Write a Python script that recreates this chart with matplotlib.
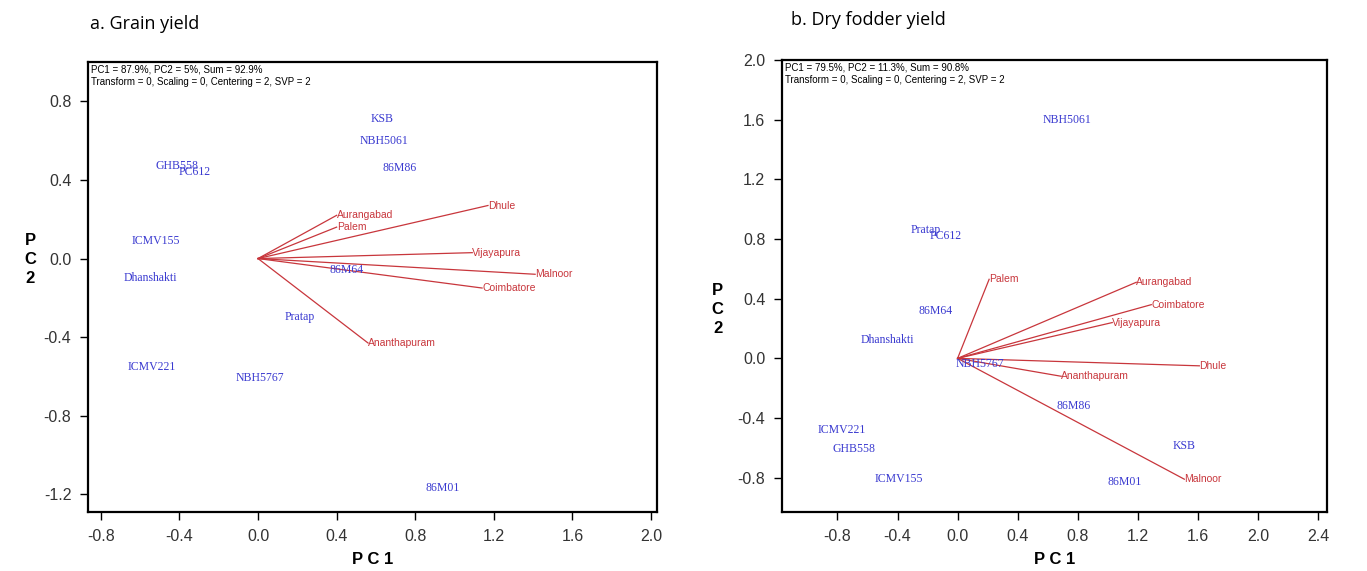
import matplotlib
matplotlib.use('Agg')
import matplotlib.pyplot as plt

# genotypes (blue labels) and environments (red vectors) -- a. grain yield
geno_a = ['KSB', 'NBH5061', '86M86', 'GHB558', 'PC612', 'ICMV155', 'Dhanshakti',
          '86M64', 'Pratap', 'ICMV221', 'NBH5767', '86M01']
geno_a_x = [0.63, 0.64, 0.72, -0.41, -0.32, -0.52, -0.55, 0.45, 0.21, -0.54, 0.01, 0.94]
geno_a_y = [0.71, 0.60, 0.46, 0.47, 0.44, 0.09, -0.10, -0.06, -0.30, -0.55, -0.61, -1.17]
env_a = ['Aurangabad', 'Palem', 'Dhule', 'Vijayapura', 'Malnoor', 'Coimbatore', 'Ananthapuram']
env_a_x = [0.40, 0.40, 1.17, 1.09, 1.41, 1.14, 0.56]
env_a_y = [0.22, 0.16, 0.27, 0.03, -0.08, -0.15, -0.43]

# b. dry fodder yield
geno_b = ['NBH5061', 'Pratap', 'PC612', '86M64', 'Dhanshakti', 'NBH5767', '86M86',
          'ICMV221', 'GHB558', 'ICMV155', 'KSB', '86M01']
geno_b_x = [0.73, -0.21, -0.08, -0.15, -0.47, 0.15, 0.77, -0.77, -0.69, -0.39, 1.51, 1.11]
geno_b_y = [1.60, 0.86, 0.82, 0.32, 0.12, -0.04, -0.32, -0.48, -0.61, -0.81, -0.59, -0.83]
env_b = ['Palem', 'Aurangabad', 'Coimbatore', 'Vijayapura', 'Dhule', 'Ananthapuram', 'Malnoor']
env_b_x = [0.21, 1.19, 1.29, 1.03, 1.61, 0.69, 1.51]
env_b_y = [0.53, 0.51, 0.36, 0.24, -0.05, -0.12, -0.81]

info_a = 'PC1 = 87.9%, PC2 = 5%, Sum = 92.9%\nTransform = 0, Scaling = 0, Centering = 2, SVP = 2'
info_b = 'PC1 = 79.5%, PC2 = 11.3%, Sum = 90.8%\nTransform = 0, Scaling = 0, Centering = 2, SVP = 2'

blue = '#3a3ad0'
red = '#c8363c'

fig = plt.figure(figsize=(13.67, 5.71), dpi=100)


def biplot(ax, gn, gx, gy, en, ex, ey, info):
    for lab, x, y in zip(en, ex, ey):
        ax.plot([0, x], [0, y], '-', color=red, lw=0.9)
        ax.text(x, y, lab, color=red, fontsize=7.5, family='Liberation Sans',
                ha='left', va='center')
    for lab, x, y in zip(gn, gx, gy):
        ax.text(x, y, lab, color=blue, fontsize=8.5, family='Liberation Serif',
                ha='center', va='center')
    ax.text(0.005, 0.995, info, transform=ax.transAxes, fontsize=7,
            family='Liberation Sans', va='top', ha='left', linespacing=1.3)
    for s in ax.spines.values():
        s.set_linewidth(1.6)
    ax.tick_params(direction='out', length=6, width=1, labelsize=11.5,
                   labelcolor='#333333', pad=6)
    for t in ax.get_xticklabels() + ax.get_yticklabels():
        t.set_family('Liberation Sans')
    ax.set_xlabel('P C 1', fontsize=12, fontweight='bold', labelpad=6,
                  family='Liberation Sans')


ax1 = fig.add_axes([0.0644, 0.1033, 0.4162, 0.788])
ax1.set_xlim(-0.865, 2.03)
ax1.set_ylim(-1.29, 1.0)
ax1.set_xticks([-0.8, -0.4, 0.0, 0.4, 0.8, 1.2, 1.6, 2.0])
ax1.set_yticks([-1.2, -0.8, -0.4, 0.0, 0.4, 0.8])
ax1.set_xticklabels(['-0.8', '-0.4', '0.0', '0.4', '0.8', '1.2', '1.6', '2.0'])
ax1.set_yticklabels(['-1.2', '-0.8', '-0.4', '0.0', '0.4', '0.8'])
biplot(ax1, geno_a, geno_a_x, geno_a_y, env_a, env_a_x, env_a_y, info_a)
fig.text(0.022, 0.546, 'P\nC\n2', fontsize=12, fontweight='bold', family='Liberation Sans',
         ha='center', va='center', linespacing=1.35)
fig.text(0.066, 0.958, 'a. Grain yield', fontsize=13, family='Open Sans', va='center')

ax2 = fig.add_axes([0.572, 0.1033, 0.3987, 0.7916])
ax2.set_xlim(-1.17, 2.46)
ax2.set_ylim(-1.03, 2.0)
ax2.set_xticks([-0.8, -0.4, 0.0, 0.4, 0.8, 1.2, 1.6, 2.0, 2.4])
ax2.set_yticks([-0.8, -0.4, 0.0, 0.4, 0.8, 1.2, 1.6, 2.0])
ax2.set_xticklabels(['-0.8', '-0.4', '0.0', '0.4', '0.8', '1.2', '1.6', '2.0', '2.4'])
ax2.set_yticklabels(['-0.8', '-0.4', '0.0', '0.4', '0.8', '1.2', '1.6', '2.0'])
biplot(ax2, geno_b, geno_b_x, geno_b_y, env_b, env_b_x, env_b_y, info_b)
fig.text(0.525, 0.458, 'P\nC\n2', fontsize=12, fontweight='bold', family='Liberation Sans',
         ha='center', va='center', linespacing=1.35)
fig.text(0.579, 0.965, 'b. Dry fodder yield', fontsize=13, family='Open Sans', va='center')

fig.savefig('out.png', dpi=100)
